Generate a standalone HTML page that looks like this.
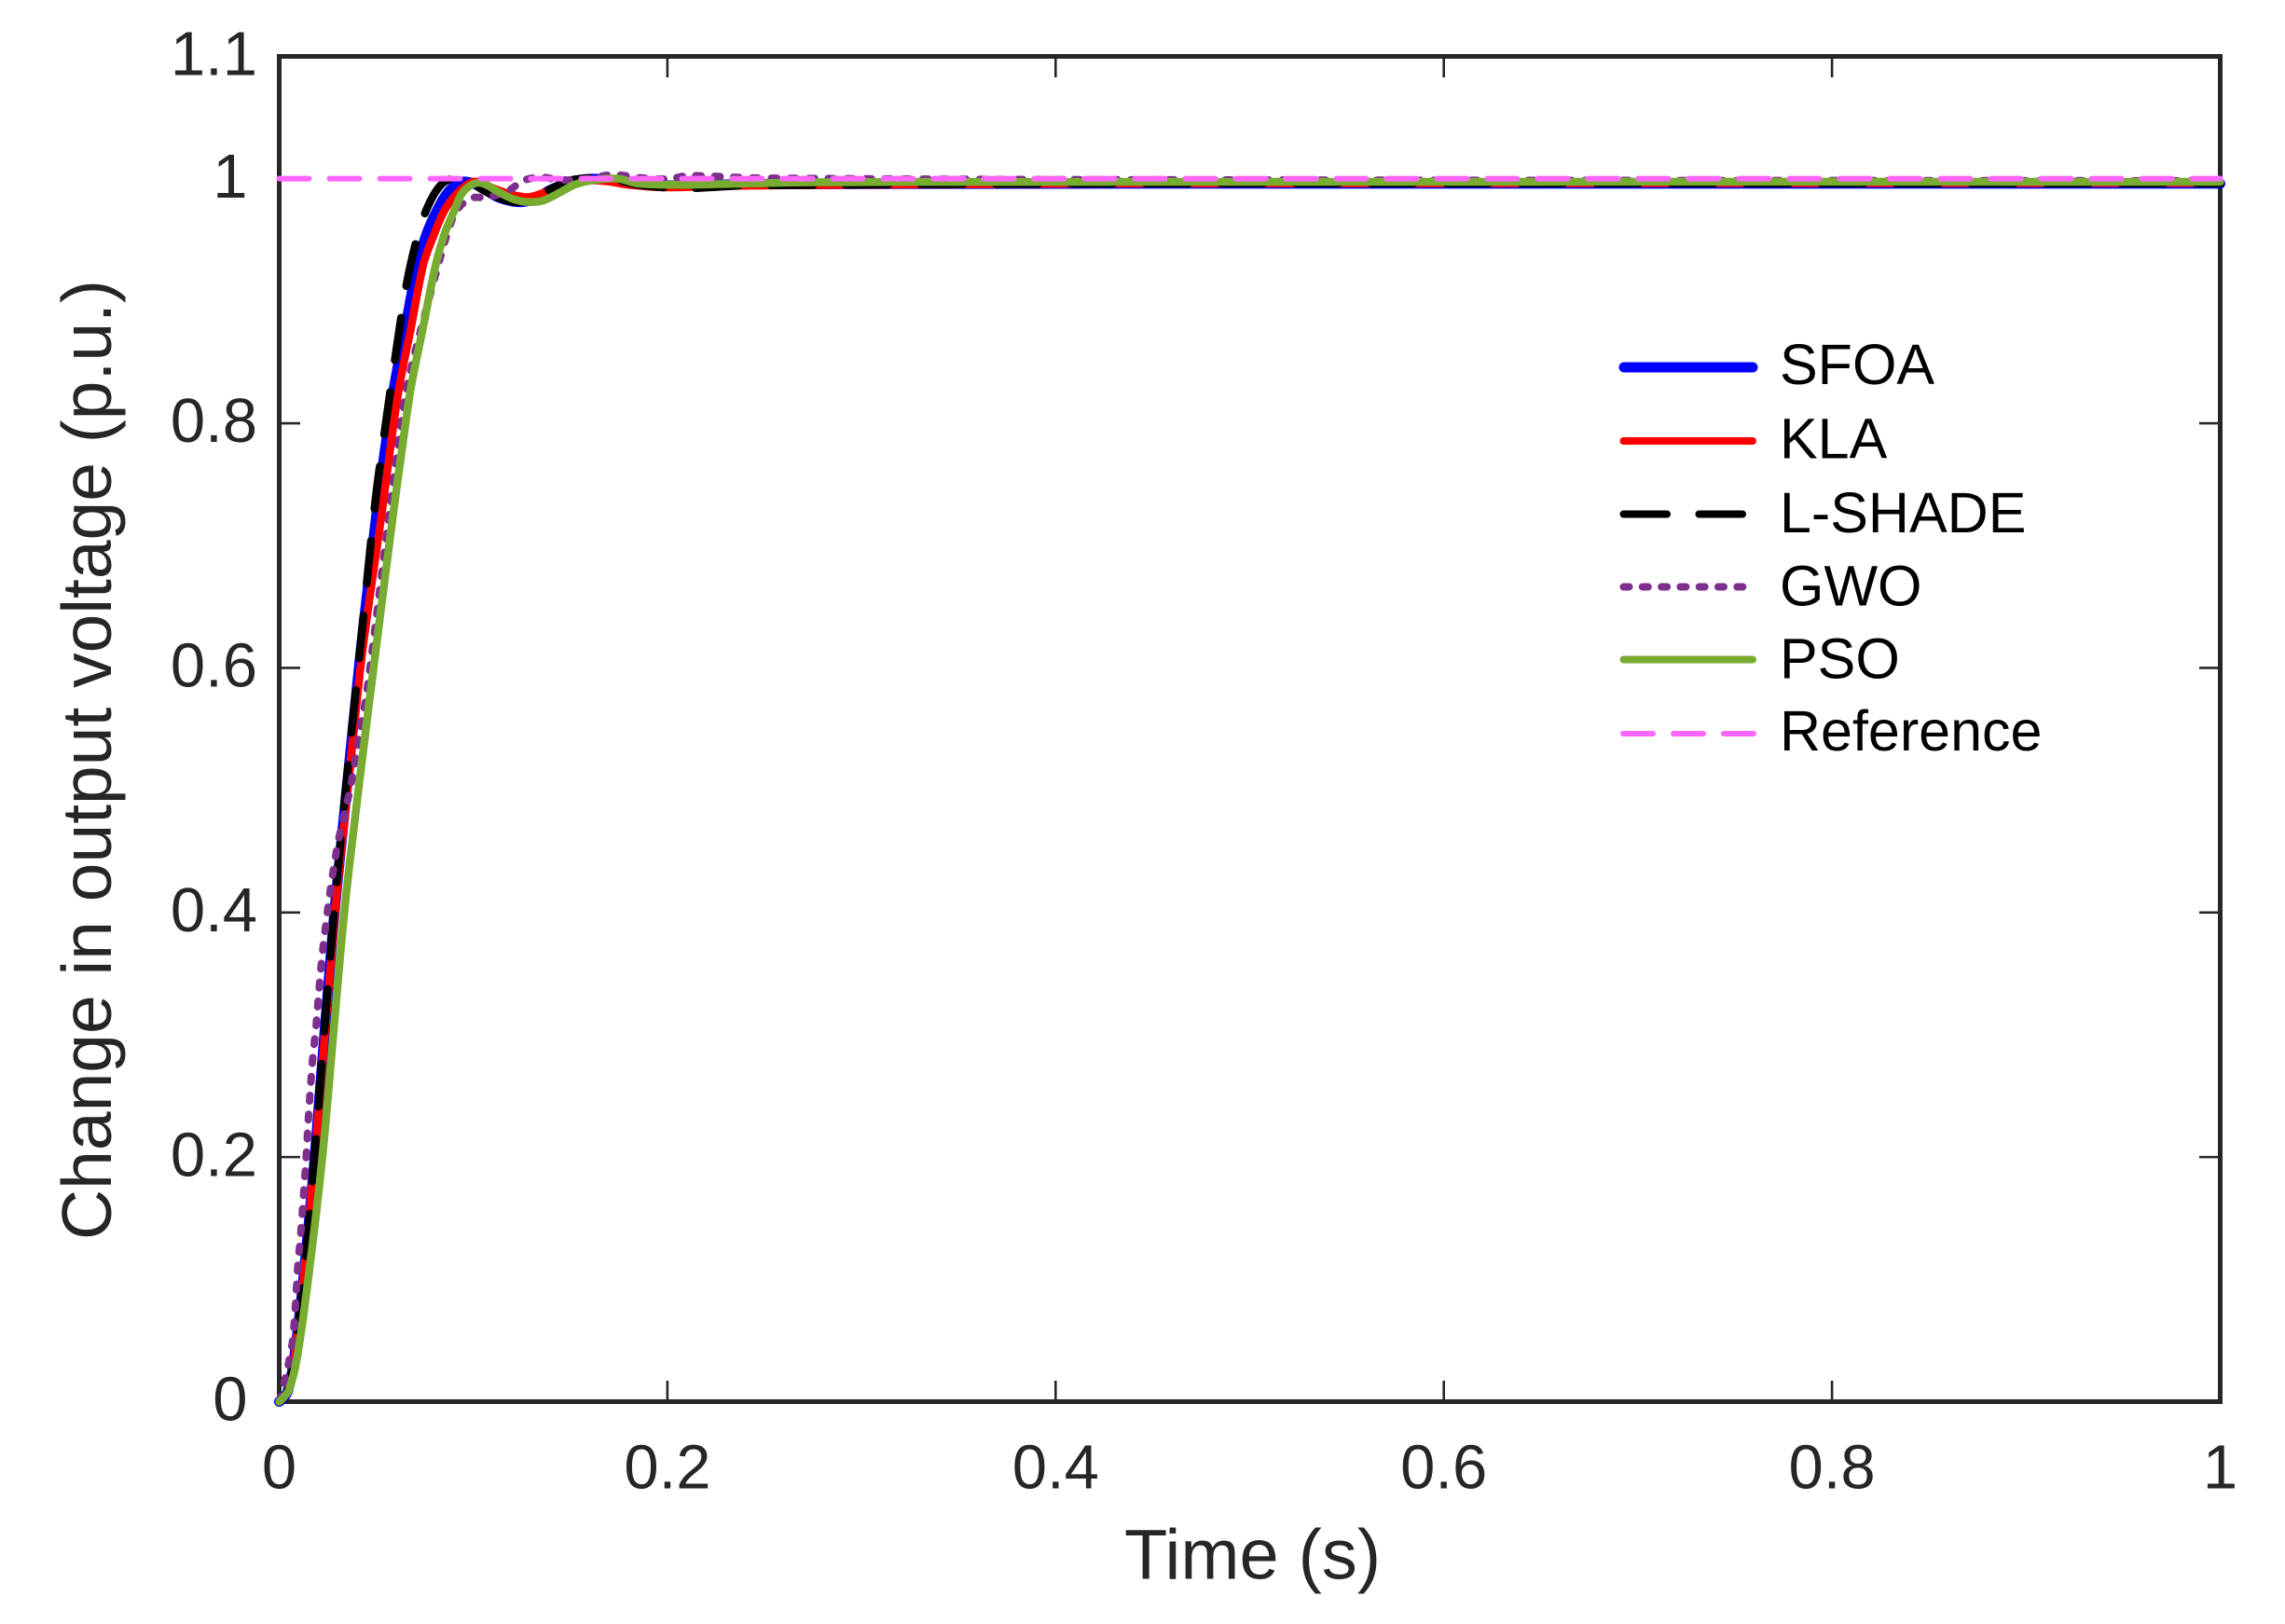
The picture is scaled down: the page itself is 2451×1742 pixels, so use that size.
<!DOCTYPE html>
<html lang="en">
<head>
<meta charset="utf-8">
<title>Change in output voltage step response</title>
<style>
  html, body { margin: 0; padding: 0; background: #ffffff; }
  body { width: 2451px; height: 1742px; overflow: hidden; }
  svg { display: block; font-family: "Liberation Sans", Arial, sans-serif; }
</style>
</head>
<body>
<svg id="chart" xmlns="http://www.w3.org/2000/svg" width="2451" height="1742" viewBox="0 0 2451 1742">
  <rect x="0" y="0" width="2451" height="1742" fill="#ffffff"/>
  <g id="ticks"></g>
  <g id="tick-labels"></g>
  <g id="series"></g>
  <rect x="299.5" y="60.5" width="2082" height="1443" fill="none" stroke="#262626" stroke-width="5"/>
  <g id="series-top"></g>

  <text x="1206" y="1693.5" font-size="75.8" fill="#262626">Time (s)</text>
  <text transform="translate(119 1330) rotate(-90)" font-size="75" fill="#262626">Change in output voltage (p.u.)</text>

  <g>
    <g>
      <line x1="1742" y1="394" x2="1880" y2="394" stroke="#0000ff" stroke-width="11" stroke-linecap="round"/>
      <text x="1909" y="412" font-size="61" fill="#000000">SFOA</text>
    </g>
    <g>
      <line x1="1741.5" y1="473" x2="1880" y2="473" stroke="#ff0000" stroke-width="8" stroke-linecap="round"/>
      <text x="1909" y="491.5" font-size="61" fill="#000000">KLA</text>
    </g>
    <g>
      <line x1="1741.5" y1="551.5" x2="1869" y2="551.5" stroke="#000000" stroke-width="8" stroke-linecap="round" stroke-dasharray="46.5 34.5"/>
      <text x="1909" y="571" font-size="61" fill="#000000">L-SHADE</text>
    </g>
    <g>
      <line x1="1741.5" y1="629.5" x2="1870" y2="629.5" stroke="#7e2f8e" stroke-width="8" stroke-linecap="round" stroke-dasharray="6 14.3"/>
      <text x="1909" y="649.5" font-size="61" fill="#000000">GWO</text>
    </g>
    <g>
      <line x1="1741.5" y1="707.5" x2="1880" y2="707.5" stroke="#77ac30" stroke-width="8" stroke-linecap="round"/>
      <text x="1909" y="727.5" font-size="61" fill="#000000">PSO</text>
    </g>
    <g>
      <line x1="1741" y1="787" x2="1881" y2="787" stroke="#ff66ff" stroke-width="6" stroke-linecap="round" stroke-dasharray="32 22"/>
      <text x="1909" y="805" font-size="61" fill="#000000">Reference</text>
    </g>
  </g>
</svg>
<script>
const xTickValues = [0, 0.2, 0.4, 0.6, 0.8, 1];
const xTickLabels = ["0", "0.2", "0.4", "0.6", "0.8", "1"];
const yTickValues = [0, 0.2, 0.4, 0.6, 0.8, 1, 1.1];
const yTickLabels = ["0", "0.2", "0.4", "0.6", "0.8", "1", "1.1"];

const timeSFOA = [0,.0022,.0046,.0076,.0122,.0183,.0234,.0288,.0353,.0419,.0504,.0545,.0591,.0651,.0713,.0761,.0811,.0867,.0929,.0977,.1043,.1122,.1203,.1261,.1331,.1395,.1492,.1602,.1684,.1812,.1909,.2100,.2403,.4326,1];
const valuesSFOA = [0,.0027,.0095,.0341,.0961,.1994,.3026,.4059,.5092,.6125,.7294,.7780,.8285,.8791,.9302,.9554,.9733,.9884,.9968,.9971,.9929,.9853,.9815,.9811,.9845,.9906,.9968,.9998,.999,.9971,.9948,.9944,.9956,.9960,.9960];

const timeKLA = [0,.0022,.0046,.0076,.0122,.0183,.0236,.0291,.0358,.0428,.0531,.0571,.0617,.0680,.0743,.0795,.0848,.0905,.0977,.1025,.1091,.1203,.1283,.1362,.1444,.1554,.1684,.1812,.2004,.2308,.2774,.4326,1];
const valuesKLA = [0,.0027,.0095,.0341,.0961,.1994,.3026,.4059,.5092,.6125,.7294,.7780,.8285,.8791,.9302,.9533,.9731,.9860,.9960,.9975,.9929,.9868,.9849,.9884,.9937,.9983,.9979,.9948,.9929,.9941,.9948,.9960,.9964];

const timeLSHADE = [0,.0022,.0046,.0076,.0122,.0181,.0232,.0286,.0348,.0415,.0495,.0543,.0598,.0658,.0713,.0755,.0803,.0851,.0891,.0963,.1059,.1139,.1203,.1261,.1410,.1506,.1620,.1708,.1842,.2082,.2403,.4326,1];
const valuesLSHADE = [0,.0027,.0095,.0341,.0961,.1994,.3026,.4059,.5092,.6125,.7360,.7932,.8542,.9151,.9533,.9733,.9886,.9975,.9998,.9983,.9899,.9838,.9811,.9815,.9924,.9988,1.0008,1.0005,.9952,.9922,.9944,.9960,.9960];

const timeGWO = [0,.0026,.0066,.0083,.0095,.0112,.0126,.0139,.0150,.0171,.0190,.0206,.0224,.0248,.0275,.0307,.0351,.0387,.0419,.0451,.0586,.0651,.0697,.0825,.0880,.0917,.0987,.1078,.1184,.1256,.1347,.1444,.1588,.1718,.1876,.2010,.2102,.2481,.4805,1];
const valuesGWO = [0,.0156,.0465,.0774,.1086,.1394,.1704,.2001,.2306,.2779,.3076,.3388,.3686,.3998,.4307,.4604,.4905,.5195,.5508,.5797,.7497,.8237,.8565,.9327,.9619,.9746,.9840,.9848,.9906,.9983,1.0013,.999,.9998,1.0032,1.0005,.9998,1.0024,1.0005,.999,.9983];

const timePSO = [0,.0022,.0050,.0090,.0146,.0222,.0280,.0339,.0415,.0496,.0590,.0632,.0678,.0742,.0807,.0853,.0908,.0944,.1009,.1059,.1122,.1203,.1283,.1362,.1444,.1524,.1620,.1746,.1842,.2004,.2164,.2774,.5286,1];
const valuesPSO = [0,.0034,.0095,.0341,.0961,.1994,.3026,.4059,.5092,.6125,.7294,.7780,.8285,.8791,.9302,.9554,.9761,.9886,.9962,.9956,.9899,.9835,.9810,.9822,.9886,.9952,.9988,1.0,.9962,.9950,.9952,.9971,.9975,.9975];

const timeReference = [0, 1];
const valuesReference = [1, 1];

const SVG_NS = "http://www.w3.org/2000/svg";
const PLOT_LEFT = 299.5, PLOT_RIGHT = 2381.5, PLOT_TOP = 60.5, PLOT_BOTTOM = 1503.5;
const Y_MAX = 1.1, TICK_LEN = 20;

function xScale(t) { return PLOT_LEFT + t * (PLOT_RIGHT - PLOT_LEFT); }
function yScale(v) { return PLOT_BOTTOM - (v / Y_MAX) * (PLOT_BOTTOM - PLOT_TOP); }

function smoothPath(times, values) {
  const pts = times.map((t, i) => [xScale(t), yScale(values[i])]);
  if (pts.length < 3) {
    return "M" + pts.map(p => p[0].toFixed(2) + " " + p[1].toFixed(2)).join("L");
  }
  const dirs = pts.map((p, i) => {
    const a = pts[Math.max(0, i - 1)], b = pts[Math.min(pts.length - 1, i + 1)];
    const dx = b[0] - a[0], dy = b[1] - a[1], n = Math.hypot(dx, dy) || 1;
    return [dx / n, dy / n];
  });
  let d = "M" + pts[0][0].toFixed(2) + " " + pts[0][1].toFixed(2);
  for (let i = 0; i < pts.length - 1; i++) {
    const p = pts[i], q = pts[i + 1];
    const len = Math.hypot(q[0] - p[0], q[1] - p[1]) / 3;
    d += "C" + (p[0] + dirs[i][0] * len).toFixed(2) + " " + (p[1] + dirs[i][1] * len).toFixed(2) + " " +
         (q[0] - dirs[i + 1][0] * len).toFixed(2) + " " + (q[1] - dirs[i + 1][1] * len).toFixed(2) + " " +
         q[0].toFixed(2) + " " + q[1].toFixed(2);
  }
  return d;
}

const ticksGroup = document.getElementById("ticks");
const labelsGroup = document.getElementById("tick-labels");

function addTick(x1, y1, x2, y2) {
  const tick = document.createElementNS(SVG_NS, "line");
  
  
  tick.setAttribute("x1", x1);
  tick.setAttribute("y1", y1);
  tick.setAttribute("x2", x2);
  tick.setAttribute("y2", y2);
  tick.setAttribute("stroke", "#262626");
  tick.setAttribute("stroke-width", "2.6");
  ticksGroup.appendChild(tick);
}

xTickValues.forEach((value, i) => {
  const x = xScale(value);
  addTick(x, PLOT_BOTTOM, x, PLOT_BOTTOM - TICK_LEN - 2.5);
  addTick(x, PLOT_TOP, x, PLOT_TOP + TICK_LEN + 2.5);
  const label = document.createElementNS(SVG_NS, "text");
  
  
  label.setAttribute("x", x);
  label.setAttribute("y", 1596.5);
  label.setAttribute("text-anchor", "middle");
  label.setAttribute("font-size", "67");
  label.setAttribute("fill", "#262626");
  label.textContent = xTickLabels[i];
  labelsGroup.appendChild(label);
});

yTickValues.forEach((value, i) => {
  const y = yScale(value);
  addTick(PLOT_LEFT, y, PLOT_LEFT + TICK_LEN + 2.5, y);
  addTick(PLOT_RIGHT, y, PLOT_RIGHT - TICK_LEN - 2.5, y);
  const text = yTickLabels[i];
  const label = document.createElementNS(SVG_NS, "text");
  
  
  label.setAttribute("x", text.length > 1 ? 276 : 265.5);
  label.setAttribute("y", y + 20.2);
  label.setAttribute("text-anchor", "end");
  label.setAttribute("font-size", "67");
  label.setAttribute("fill", "#262626");
  label.textContent = text;
  labelsGroup.appendChild(label);
});

const seriesGroup = document.getElementById("series-top");

function addSeries(name, times, values, color, width, dash) {
  const path = document.createElementNS(SVG_NS, "path");
  
  
  path.setAttribute("d", smoothPath(times, values));
  path.setAttribute("fill", "none");
  path.setAttribute("stroke", color);
  path.setAttribute("stroke-width", width);
  path.setAttribute("stroke-linecap", "round");
  path.setAttribute("stroke-linejoin", "round");
  if (dash) path.setAttribute("stroke-dasharray", dash);
  seriesGroup.appendChild(path);
}

addSeries("series-sfoa", timeSFOA, valuesSFOA, "#0000ff", 11, null);
addSeries("series-kla", timeKLA, valuesKLA, "#ff0000", 8.5, null);
addSeries("series-l-shade", timeLSHADE, valuesLSHADE, "#000000", 8.5, "46 34.5");
addSeries("series-gwo", timeGWO, valuesGWO, "#7e2f8e", 8, "6 14.3");
addSeries("series-pso", timePSO, valuesPSO, "#77ac30", 8.5, null);
addSeries("series-reference", timeReference, valuesReference, "#ff66ff", 6, "32 22");
</script>
</body>
</html>
